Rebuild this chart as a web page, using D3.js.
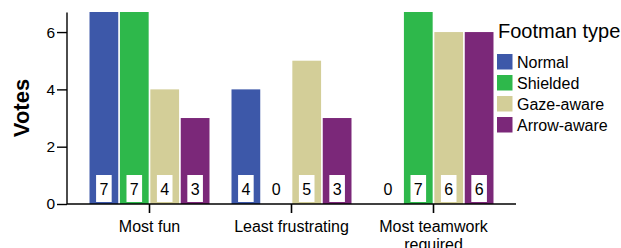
<!DOCTYPE html>
<html><head><meta charset="utf-8">
<script src="https://cdn.jsdelivr.net/npm/d3@7"></script>
<style>body{margin:0;background:#fff}svg{display:block;font-family:"Liberation Sans",Arial,sans-serif}</style>
</head><body><svg id="c" width="621" height="248"></svg>
<script>
const categories = ["Most fun", "Least frustrating", "Most teamwork required"];
const categoryLines = [["Most fun"], ["Least frustrating"], ["Most teamwork", "required"]];
const series = ["Normal", "Shielded", "Gaze-aware", "Arrow-aware"];
const normal = [7, 4, 0];
const shielded = [7, 0, 7];
const gazeAware = [4, 5, 6];
const arrowAware = [3, 3, 6];
const yTicks = [0, 2, 4, 6];
const colors = ["#3D58A9", "#2EB84B", "#D3CE98", "#7B2879"];
const legendTitle = "Footman type";
const yTitle = "Votes";

const values = [normal, shielded, gazeAware, arrowAware];
const svg = d3.select("#c");
const y = d3.scaleLinear().domain([0, 6.7]).range([204, 12]).clamp(true);
const x = d3.scaleBand().domain(categories).range([67, 516]).paddingInner(0.155).paddingOuter(0.1585);
const xs = d3.scaleBand().domain(series).range([0, x.bandwidth()]).paddingInner(0.055);

const data = [];
categories.forEach((c, i) => series.forEach((s, j) => data.push({c, s, v: values[j][i], col: colors[j]})));

const g = svg.append("g");
g.selectAll("rect.bar").data(data).enter().append("rect")
  .attr("class", "bar")
  .attr("x", d => x(d.c) + xs(d.s))
  .attr("width", xs.bandwidth())
  .attr("y", d => y(d.v))
  .attr("height", d => y(0) - y(d.v))
  .attr("fill", d => d.col);

// labels
const lab = g.selectAll("g.lab").data(data).enter().append("g").attr("class", "lab")
  .attr("transform", d => `translate(${x(d.c) + xs(d.s) + xs.bandwidth() / 2},0)`);
lab.append("rect").attr("x", -7.8).attr("width", 15.6).attr("y", 175).attr("height", 27).attr("fill", "#fff");
lab.append("text").attr("y", 194.5).attr("text-anchor", "middle").attr("font-size", 16).attr("fill", "#000").text(d => d.v);

// y axis
const ya = svg.append("g").attr("transform", "translate(67,0)")
  .call(d3.axisLeft(y).tickValues(yTicks).tickFormat(d3.format("d")).tickSize(10).tickPadding(2).tickSizeOuter(0));
ya.select(".domain").attr("d", `M0,${y(0)}V12.5`).attr("stroke", "#000").attr("stroke-width", 1.4);
ya.selectAll(".tick line").attr("stroke", "#000").attr("stroke-width", 1.4);
ya.selectAll(".tick text").attr("font-size", 15.5).attr("fill", "#000").attr("font-family", "Liberation Sans, Arial, sans-serif");

// x axis
const xa = svg.append("g").attr("transform", `translate(0,${y(0)})`)
  .call(d3.axisBottom(x).tickSize(9).tickSizeOuter(0).tickFormat(""));
xa.select(".domain").attr("d", "M67,0H516").attr("stroke", "#000").attr("stroke-width", 1.4);
xa.selectAll(".tick line").attr("stroke", "#000").attr("stroke-width", 1.6);
xa.selectAll(".tick").each(function(d, i) {
  const t = d3.select(this).append("text").attr("text-anchor", "middle").attr("font-size", 16)
    .attr("fill", "#000").attr("font-family", "Liberation Sans, Arial, sans-serif");
  categoryLines[i].forEach((l, k) => t.append("tspan").attr("x", 0).attr("y", 28 + k * 18).text(l));
});

// y title
svg.append("text").attr("transform", "translate(29,108) rotate(-90)").attr("text-anchor", "middle")
  .attr("font-size", 22).attr("font-weight", "bold").text(yTitle);

// legend
const lg = svg.append("g").attr("transform", "translate(497,0)");
lg.append("text").attr("x", 1).attr("y", 38).attr("font-size", 20).text(legendTitle);
series.forEach((s, j) => {
  lg.append("rect").attr("x", 0).attr("y", 54 + j * 21).attr("width", 15.5).attr("height", 15.5).attr("fill", colors[j]);
  lg.append("text").attr("x", 20).attr("y", 67.5 + j * 21).attr("font-size", 16).text(s);
});
</script></body></html>
